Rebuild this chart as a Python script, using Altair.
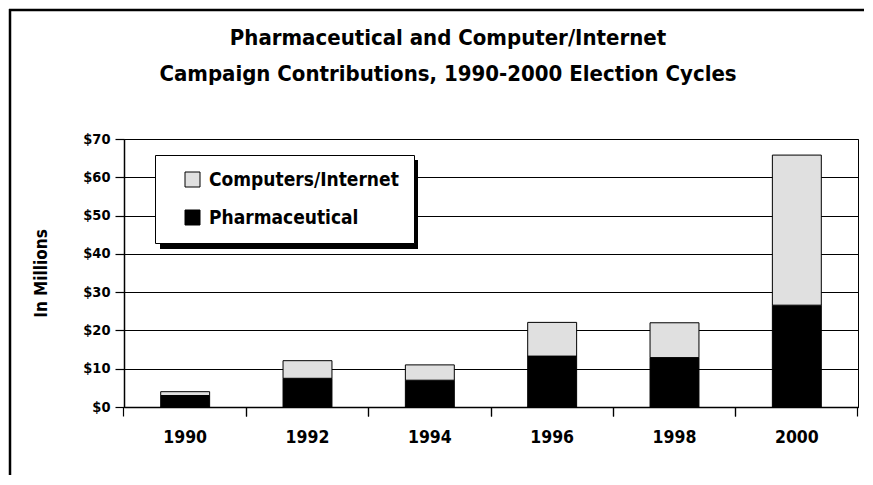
import altair as alt
import pandas as pd

# ---- data ----
years = ["1990", "1992", "1994", "1996", "1998", "2000"]
pharmaceutical = [3.0, 7.5, 7.0, 13.3, 12.9, 26.6]
computers_internet = [1.0, 4.6, 4.0, 8.8, 9.1, 39.2]
series_names = ["Computers/Internet", "Pharmaceutical"]
series_colors = ["#e0e0e0", "#000000"]
y_ticks = [0, 10, 20, 30, 40, 50, 60, 70]
title_lines = ["Pharmaceutical and Computer/Internet",
               "Campaign Contributions, 1990-2000 Election Cycles"]
y_title = "In Millions"

rows = []
for i, yr in enumerate(years):
    rows.append({"year": yr, "series": "Pharmaceutical", "value": pharmaceutical[i], "rank": 0})
    rows.append({"year": yr, "series": "Computers/Internet", "value": computers_internet[i], "rank": 1})
df = pd.DataFrame(rows)
one = pd.DataFrame({"k": [0]})

LABEL_FONT = "DejaVu Sans Condensed, Liberation Sans, sans-serif"
TITLE_FONT = "DejaVu Sans Condensed, Liberation Sans, sans-serif"
PLOT_W, PLOT_H = 734, 268

x_scale = alt.Scale(domain=years, paddingInner=0.6, paddingOuter=0.3)
y_scale = alt.Scale(domain=[0, 70], nice=False)

# outer frame: only its top and left edges fall inside the picture
frame_top = alt.Chart(one).mark_rule(color="black", strokeWidth=2.5).encode(
    x=alt.value(-115), x2=alt.value(740), y=alt.value(-129)
)
frame_left = alt.Chart(one).mark_rule(color="black", strokeWidth=2.5).encode(
    x=alt.value(-114), y=alt.value(-130), y2=alt.value(336)
)

# legend drop shadow
shadow = alt.Chart(one).mark_rect(fill="black").encode(
    x=alt.value(36), x2=alt.value(294), y=alt.value(21), y2=alt.value(110)
)

bars = alt.Chart(df).mark_bar(stroke="#000000", strokeWidth=1).encode(
    x=alt.X("year:N", sort=years, scale=x_scale,
            axis=alt.Axis(title=None, orient="bottom", labelAngle=0, ticks=False, tickSize=0,
                          domain=True, domainColor="black", domainWidth=1.5, grid=False,
                          labelFont=LABEL_FONT, labelFontSize=17.5, labelFontWeight="bold",
                          labelColor="black", labelPadding=21, labelBaseline="top")),
    y=alt.Y("value:Q", stack="zero", scale=y_scale,
            axis=alt.Axis(values=y_ticks, format="$.0f", title=y_title, grid=True,
                          gridColor="black", gridWidth=1, domainColor="black", domainWidth=1.5,
                          tickColor="black", tickSize=9, tickWidth=1.2,
                          labelFont=LABEL_FONT, labelFontSize=14.5, labelFontWeight="bold",
                          labelColor="black", labelPadding=5,
                          titleFont=LABEL_FONT, titleFontSize=17, titleFontWeight="bold",
                          titleColor="black", titlePadding=32)),
    color=alt.Color("series:N", scale=alt.Scale(domain=series_names, range=series_colors),
                    legend=alt.Legend(title=None, orient="none", legendX=31, legendY=16,
                                      fillColor="white", strokeColor="black", padding=15,
                                      symbolType="square", symbolSize=225, symbolOffset=13,
                                      symbolStrokeColor="black", symbolStrokeWidth=1,
                                      labelFont=LABEL_FONT, labelFontSize=19,
                                      labelFontWeight="bold", labelColor="black",
                                      labelLimit=400, labelOffset=7, rowPadding=18)),
    order=alt.Order("rank:Q", sort="ascending"),
)

ticks_left = alt.Chart(df).mark_point(opacity=0).encode(
    x=alt.X("year:N", sort=years, scale=x_scale,
            axis=alt.Axis(title=None, orient="bottom", labels=False, domain=False, grid=False,
                          ticks=True, tickSize=9, tickColor="black", tickWidth=1.2,
                          bandPosition=-0.75))
)
ticks_right = alt.Chart(df).mark_point(opacity=0).encode(
    x=alt.X("year:N", sort=years, scale=x_scale,
            axis=alt.Axis(title=None, orient="bottom", labels=False, domain=False, grid=False,
                          ticks=True, tickSize=9, tickColor="black", tickWidth=1.2,
                          bandPosition=1.75))
)

chart = alt.layer(frame_top, frame_left, shadow, bars, ticks_left, ticks_right).resolve_axis(
    x="independent"
).properties(
    width=PLOT_W,
    height=PLOT_H,
    title=alt.TitleParams(text=title_lines, font=TITLE_FONT, fontSize=22, fontWeight="bold",
                          color="black", lineHeight=36, anchor="middle", dx=-43, offset=-78),
    autosize=alt.AutoSizeParams(type="none"),
    padding={"left": 116, "top": 131, "right": 7, "bottom": 70},
).configure_view(
    stroke="black", strokeWidth=1
)

chart.save("out.html", embed_options={"renderer": "svg", "actions": False})
